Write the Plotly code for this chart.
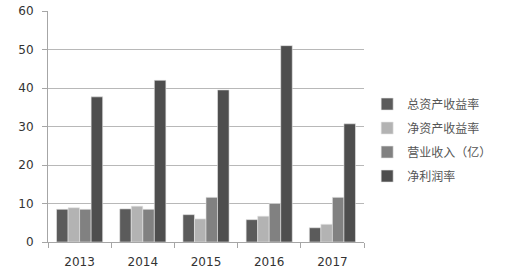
import plotly.graph_objects as go

years = ["2013", "2014", "2015", "2016", "2017"]
series_names = ["总资产收益率", "净资产收益率", "营业收入（亿）", "净利润率"]
roa = [8.5, 8.6, 7.1, 5.8, 3.7]
roe = [8.9, 9.3, 6.0, 6.7, 4.6]
revenue = [8.5, 8.5, 11.6, 10.0, 11.6]
net_margin = [37.7, 42.0, 39.5, 51.0, 30.7]
colors = ["#5b5b5b", "#b3b3b3", "#818181", "#4e4e4e"]

fig = go.Figure()
for name, vals, c in zip(series_names, [roa, roe, revenue, net_margin], colors):
    fig.add_trace(go.Bar(x=years, y=vals, name=name, legendgroup=name,
                         marker=dict(color=c, line=dict(color="#e6e6e6", width=0.6))))

fig.update_layout(
    width=521, height=273,
    margin=dict(l=48, r=157, t=11, b=31),
    paper_bgcolor="white", plot_bgcolor="white",
    barmode="group", bargap=0.27, bargroupgap=0,
    font=dict(family="DejaVu Sans", size=12, color="#333333"),
    legend=dict(x=1.01, y=0.66, xanchor="left", yanchor="top",
                traceorder="grouped", tracegroupgap=5,
                font=dict(family="Noto Sans CJK SC", size=12, color="#555555"),
                itemwidth=30, bgcolor="rgba(0,0,0,0)"),
    showlegend=True,
)
fig.update_xaxes(showline=True, linecolor="#a6a6a6", linewidth=1,
                 ticks="outside", ticklen=5, tickcolor="#a6a6a6",
                 tickson="boundaries", showgrid=False, ticklabelstandoff=9,
                 automargin=False,
                 tickfont=dict(family="DejaVu Sans", size=12, color="#333333"))
fig.update_yaxes(range=[0, 60], dtick=10, showline=True, linecolor="#a6a6a6",
                 linewidth=1, ticks="outside", ticklen=5, tickcolor="#a6a6a6",
                 gridcolor="#b8b8b8", gridwidth=1, zeroline=False,
                 automargin=False, ticklabelstandoff=6,
                 tickfont=dict(family="DejaVu Sans", size=12, color="#333333"))

fig.write_html("out.html")
